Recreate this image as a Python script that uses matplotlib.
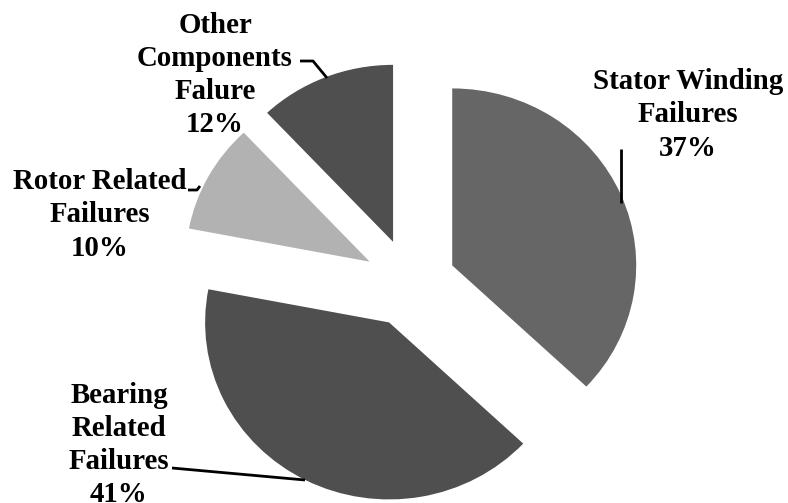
import matplotlib
matplotlib.use("Agg")
import matplotlib.pyplot as plt
from matplotlib.lines import Line2D

# failure shares of induction motor components
names = ["Stator Winding\nFailures", "Bearing\nRelated\nFailures",
         "Rotor Related\nFailures", "Other\nComponents\nFalure"]
shares = [37, 41, 10, 12]
colors = ["#666666", "#4f4f4f", "#b2b2b2", "#4f4f4f"]

W, H = 788, 503
fig = plt.figure(figsize=(W / 100, H / 100), dpi=100)
ax = fig.add_axes([0, 0, 1, 1])

ax.pie(shares, colors=colors, startangle=90, counterclock=False,
       explode=[0.25] * 4, radius=1, wedgeprops=dict(linewidth=0))

# slightly flattened pie: 184 px wide radius, 177 px tall, centre at (410, 283)
rx, ry, cx, cy = 184, 177, 410, 283
ax.set_aspect("auto")
ax.set_xlim(-cx / rx, (W - cx) / rx)
ax.set_ylim((cy - H) / ry, cy / ry)
ax.axis("off")


def fx(x):
    return x / W


def fy(y):
    return 1 - y / H


# label centres in pixels
label_pos = [(688, 115), (119, 445), (100, 215), (215, 75)]
for name, s, (x, y) in zip(names, shares, label_pos):
    fig.text(fx(x), fy(y), f"{name}\n{s}%", ha="center", va="center",
             family="Liberation Serif", weight="bold", fontsize=20.8,
             linespacing=1.3)

# leader lines
leaders = [
    [(621, 149), (621, 203)],
    [(172, 468), (305, 480)],
    [(188, 190), (197, 190), (200, 186)],
    [(300, 61), (313, 61), (327, 78)],
]
for pts in leaders:
    xs = [fx(p[0]) for p in pts]
    ys = [fy(p[1]) for p in pts]
    fig.add_artist(Line2D(xs, ys, color="black", linewidth=2,
                          solid_capstyle="butt"))

fig.savefig("out.png", dpi=100, facecolor="white")
